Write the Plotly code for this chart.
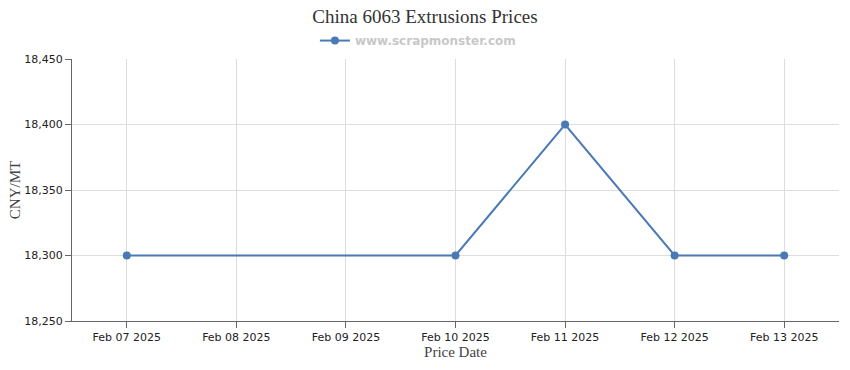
import plotly.graph_objects as go

dates = ["Feb 07 2025", "Feb 08 2025", "Feb 09 2025", "Feb 10 2025",
         "Feb 11 2025", "Feb 12 2025", "Feb 13 2025"]
prices = [18300, None, None, 18300, 18400, 18300, 18300]
y_ticks = [18250, 18300, 18350, 18400, 18450]
series_name = "www.scrapmonster.com"
title_text = "China 6063 Extrusions Prices"

line_color = "#4a7ab6"

fig = go.Figure()
fig.add_trace(go.Scatter(
    x=dates, y=prices, name=series_name, mode="lines+markers",
    connectgaps=True,
    line=dict(color=line_color, width=2),
    marker=dict(color=line_color, size=8),
))

fig.update_layout(
    width=850, height=370,
    margin=dict(l=72, r=11, t=59, b=49, autoexpand=False),
    paper_bgcolor="white", plot_bgcolor="white",
    title=dict(text=title_text, x=0.5, xanchor="center", y=0.973, yanchor="top",
               font=dict(family="Liberation Serif, Times New Roman, serif", size=19, color="#333333")),
    showlegend=True,
    legend=dict(orientation="h", x=0.451, xanchor="center", y=1.015, yanchor="bottom",
                font=dict(family="DejaVu Sans, Verdana, sans-serif", size=12, color="#c8c8c8", weight="bold"),
                bgcolor="rgba(0,0,0,0)", itemwidth=30),
    font=dict(family="DejaVu Sans, Tahoma, sans-serif", size=12, color="#222222"),
)

fig.update_xaxes(
    type="category", categoryorder="array", categoryarray=dates,
    range=[-0.5, 6.5], automargin=False,
    showline=True, linecolor="#666666", linewidth=1,
    showgrid=True, gridcolor="#dddddd", gridwidth=1,
    ticks="outside", ticklen=6, tickcolor="#666666",
    tickfont=dict(family="DejaVu Sans, Tahoma, sans-serif", size=11, color="#222222"),
    title=dict(text="Price Date", standoff=2,
               font=dict(family="Liberation Serif, Times New Roman, serif", size=15, color="#444444")),
)
fig.update_yaxes(
    range=[18250, 18450], tickvals=y_ticks, tickformat=",",
    automargin=False,
    showline=True, linecolor="#666666", linewidth=1,
    showgrid=True, gridcolor="#dddddd", gridwidth=1,
    ticks="outside", ticklen=6, tickcolor="#666666",
    zeroline=False,
    tickfont=dict(family="DejaVu Sans, Tahoma, sans-serif", size=11, color="#222222"),
    title=dict(text="CNY/MT", standoff=0,
               font=dict(family="Liberation Serif, Times New Roman, serif", size=15, color="#444444")),
)

fig.write_html("out.html", config={"displayModeBar": False},
               post_script="document.body.style.margin='0';document.body.style.overflow='hidden';")
